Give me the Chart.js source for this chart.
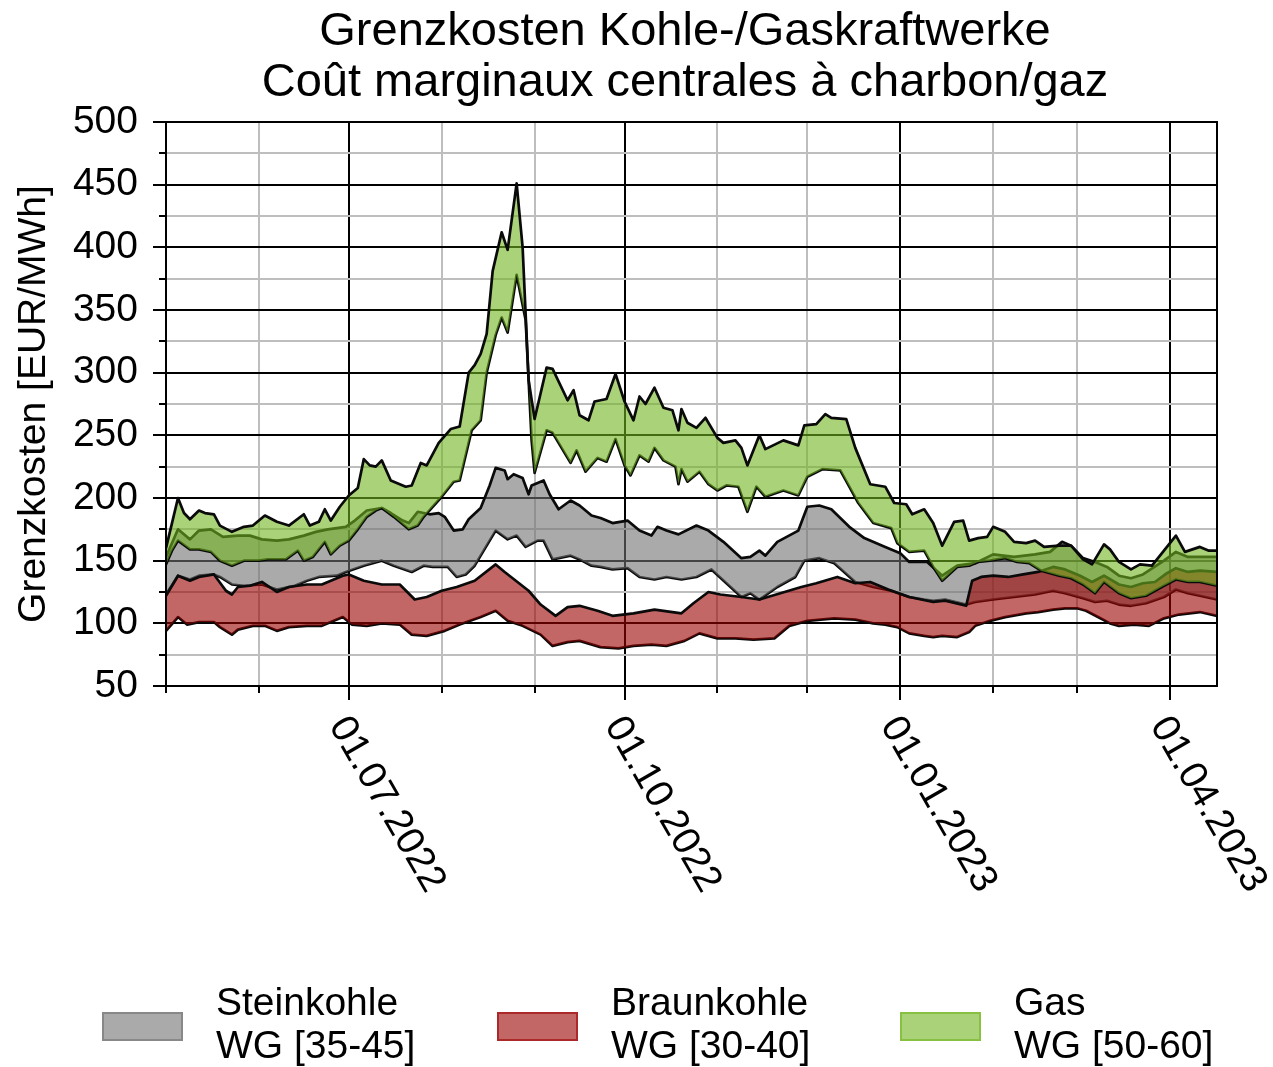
<!DOCTYPE html>
<html>
<head>
<meta charset="utf-8">
<script src="https://cdn.jsdelivr.net/npm/chart.js@4.4.1/dist/chart.umd.min.js"></script>
<style>
    html, body { margin: 0; padding: 0; background: #fff; }
    canvas { display: block; }
</style>
</head>
<body>
<canvas id="graph" width="1273" height="1067"></canvas>
<script>
const titleLines = ['Grenzkosten Kohle-/Gaskraftwerke', 'Coût marginaux centrales à charbon/gaz']
const yTitle = 'Grenzkosten [EUR/MWh]'

// x = days since 01.05.2022
const startDate = Date.UTC(2022, 4, 1)
const xMaxDay = 350.7
const monthTicks = ['2022-05-01', '2022-06-01', '2022-07-01', '2022-08-01', '2022-09-01', '2022-10-01',
    '2022-11-01', '2022-12-01', '2023-01-01', '2023-02-01', '2023-03-01', '2023-04-01']
const labelledTicks = ['2022-07-01', '2022-10-01', '2023-01-01', '2023-04-01']

const legendNames = ['Steinkohle', 'Braunkohle', 'Gas']
const legendRanges = ['WG [35-45]', 'WG [30-40]', 'WG [50-60]']

// [day, EUR/MWh]
const gasHi = [[0,160],[2,180],[4,200],[6,188],[8,183],[11,190],[13,188],[16,187],[18,178],[22,173],[26,177],[29,178],
    [33,186],[37,181],[41,178],[46,187],[48,178],[51,181],[53,191],[55,182],[58,193],[61,202],[64,208],[66,231],[68,226],
    [70,225],[72,230],[75,214],[80,209],[82,210],[85,228],[87,226],[91,244],[95,255],[98,257],[101,300],[103,306],[105,315],
    [107,331],[109,381],[112,412],[114,398],[117,451],[119,400],[121,294],[123,263],[127,304],[129,303],[134,278],[136,286],
    [138,266],[141,262],[143,277],[147,279],[150,299],[153,277],[156,262],[158,281],[160,275],[163,288],[166,272],[169,270],
    [171,254],[172,271],[174,260],[177,256],[180,264],[184,248],[186,244],[190,246],[192,240],[194,226],[198,250],[200,239],
    [206,246],[211,242],[213,258],[217,259],[220,267],[222,264],[227,263],[230,240],[235,211],[240,209],[243,196],[247,195],
    [249,187],[253,191],[256,180],[259,162],[263,181],[266,182],[268,166],[271,168],[274,169],[276,177],[280,173],[283,165],
    [287,164],[290,166],[293,161],[298,162],[302,162],[306,151],[309,147],[313,163],[315,159],[318,149],[322,143],[325,147],
    [329,146],[333,158],[337,170],[340,157],[345,161],[348,158],[350.7,158]]
const gasLo = [[0,147],[2,158],[4,166],[8,159],[11,159],[15,157],[18,150],[22,146],[26,150],[31,150],[34,151],[40,151],
    [44,158],[46,150],[49,153],[53,165],[55,155],[58,162],[61,166],[64,175],[67,185],[70,190],[72,192],[76,185],[81,175],
    [84,178],[86,185],[89,193],[92,201],[96,213],[98,214],[102,254],[105,262],[107,300],[110,330],[112,344],[114,332],
    [117,378],[120,342],[122,246],[123,220],[127,254],[129,252],[135,228],[137,238],[140,221],[144,232],[147,229],[150,247],
    [153,226],[155,218],[158,234],[161,229],[163,240],[166,230],[170,225],[171,211],[172,223],[174,213],[178,221],[181,211],
    [184,206],[187,210],[191,209],[194,189],[197,209],[200,201],[206,206],[211,202],[214,217],[219,223],[225,222],[228,209],
    [231,196],[236,180],[242,176],[244,164],[248,157],[253,158],[256,145],[259,134],[264,145],[268,146],[271,149],[275,150],
    [280,152],[284,149],[288,148],[292,142],[298,138],[302,136],[306,131],[310,124],[313,133],[318,124],[322,120],[327,122],
    [333,130],[337,135],[341,133],[345,133],[350.7,130]]
const steinHi = [[0,153],[4,175],[8,167],[11,174],[15,175],[19,169],[24,170],[28,170],[32,167],[37,166],[41,167],[46,170],
    [50,173],[54,175],[60,177],[63,182],[67,190],[72,192],[75,188],[79,182],[81,180],[84,189],[86,188],[88,187],[91,188],
    [93,185],[96,174],[99,175],[101,183],[105,192],[108,210],[110,224],[113,222],[114,215],[116,219],[119,216],[121,203],
    [122,210],[126,214],[128,203],[131,191],[135,198],[138,194],[142,186],[145,184],[149,180],[154,182],[158,174],[162,170],
    [164,177],[167,174],[171,171],[177,178],[181,174],[186,165],[192,152],[195,153],[198,158],[200,154],[204,165],[211,174],
    [214,193],[218,194],[222,191],[228,177],[233,168],[240,161],[245,156],[248,149],[254,149],[259,138],[264,146],[270,148],
    [276,155],[283,153],[290,155],[295,157],[299,165],[302,162],[306,152],[310,149],[314,145],[318,138],[322,136],[326,139],
    [333,150],[337,157],[341,153],[345,153],[350.7,153]]
const steinLo = [[0,123],[4,138],[8,135],[11,138],[16,139],[18,137],[22,131],[26,130],[32,131],[37,127],[43,130],[47,134],
    [51,137],[57,138],[60,141],[66,146],[72,150],[76,146],[82,141],[86,146],[89,145],[94,145],[97,137],[100,139],[103,146],
    [106,158],[110,174],[114,167],[117,170],[120,161],[124,166],[126,166],[129,151],[135,154],[138,151],[142,146],[145,145],
    [149,143],[154,144],[158,137],[163,135],[167,137],[172,135],[177,137],[182,143],[187,132],[192,121],[195,124],[198,119],
    [204,129],[210,137],[213,150],[218,152],[223,148],[230,133],[236,129],[242,126],[248,121],[253,119],[256,118],[260,119],
    [267,115],[270,117],[276,119],[283,121],[290,123],[296,126],[300,124],[306,120],[310,117],[314,118],[318,115],[322,114],
    [327,116],[333,121],[337,127],[341,124],[345,122],[350.7,119]]
const braunHi = [[0,122],[4,138],[8,134],[11,137],[16,139],[20,126],[22,123],[24,129],[28,130],[32,133],[37,125],[41,129],
    [47,131],[52,131],[59,138],[61,139],[66,134],[72,131],[78,131],[83,119],[87,121],[92,126],[97,129],[103,134],[110,147],
    [113,141],[121,126],[125,115],[130,106],[134,113],[138,114],[144,110],[149,106],[156,108],[163,111],[172,108],[176,116],
    [181,125],[185,123],[192,121],[198,119],[205,124],[212,129],[217,132],[224,137],[230,132],[235,133],[241,127],[248,121],
    [256,117],[260,118],[267,114],[269,134],[272,137],[276,138],[281,137],[286,139],[291,141],[296,145],[300,143],[305,138],
    [309,133],[313,138],[318,131],[322,129],[326,132],[330,133],[334,140],[337,144],[341,141],[345,142],[350.7,141]]
const braunLo = [[0,94],[4,105],[7,99],[11,101],[16,101],[18,97],[22,91],[24,95],[29,98],[33,98],[37,94],[41,97],[47,98],
    [52,98],[59,105],[62,99],[67,98],[72,100],[78,99],[82,91],[87,90],[93,94],[98,99],[105,105],[110,110],[114,102],[119,98],
    [125,91],[129,82],[134,85],[138,86],[145,81],[151,80],[156,82],[162,83],[167,82],[173,86],[178,92],[184,88],[190,88],
    [196,87],[203,88],[208,98],[214,102],[223,104],[230,103],[236,100],[240,99],[244,97],[248,92],[253,90],[256,89],[259,90],
    [264,89],[268,93],[270,98],[275,102],[280,105],[287,108],[291,109],[296,111],[300,112],[304,112],[307,110],[311,105],
    [315,100],[318,98],[323,99],[328,98],[333,104],[338,107],[345,109],[350.7,106]]

const black = 'rgb(0, 0, 0)'
const lineBlack = 'rgb(10, 10, 10)'
const gridGrey = 'rgb(190, 190, 190)'
const gasFill = 'rgba(113, 180, 30, 0.6)'
const braunFill = 'rgba(155, 0, 0, 0.6)'
const steinFill = 'rgba(113, 113, 113, 0.6)'
const fontFamily = '"Liberation Sans", Arial, Helvetica, sans-serif'

const dayOf = s => (Date.parse(s) - startDate) / 86400000
const toPoints = arr => arr.map(p => ({x: p[0], y: p[1]}))
const quarterDays = labelledTicks.map(dayOf)
function fmtDay(d) {
    const dt = new Date(startDate + d * 86400000)
    const pad = n => String(n).padStart(2, '0')
    return pad(dt.getUTCDate()) + '.' + pad(dt.getUTCMonth() + 1) + '.' + dt.getUTCFullYear()
}

function band(label, upper, lower, fillColor) {
    //upper line fills down to the lower line
    return [
        {label: label, data: toPoints(upper), fill: '+1', backgroundColor: fillColor,
            borderColor: lineBlack, borderWidth: 2.7, pointRadius: 0, tension: 0, borderJoinStyle: 'round'},
        {label: label, data: toPoints(lower), fill: false,
            borderColor: lineBlack, borderWidth: 2.7, pointRadius: 0, tension: 0, borderJoinStyle: 'round'}
    ]
}

const decor = {
    id: 'decor',
    afterDatasetsDraw(chart) {
        const ctx = chart.ctx
        const area = chart.chartArea
        const xs = chart.scales.x
        const ys = chart.scales.y
        ctx.save()
        ctx.strokeStyle = black
        ctx.lineWidth = 2
        //tick marks
        ctx.beginPath()
        for (let v = 50; v <= 500; v += 25) {
            const py = Math.round(ys.getPixelForValue(v))
            const len = v % 50 === 0 ? 13 : 7
            ctx.moveTo(area.left - len, py)
            ctx.lineTo(area.left, py)
        }
        for (const s of monthTicks) {
            const px = Math.round(xs.getPixelForValue(dayOf(s)))
            const len = labelledTicks.includes(s) ? 14 : 7
            ctx.moveTo(px, area.bottom)
            ctx.lineTo(px, area.bottom + len)
        }
        ctx.stroke()
        ctx.strokeRect(area.left, area.top, area.right - area.left, area.bottom - area.top)
        ctx.restore()
    },
    afterDraw(chart) {
        const ctx = chart.ctx
        const area = chart.chartArea
        const xs = chart.scales.x
        ctx.save()
        ctx.fillStyle = black
        //title
        ctx.font = '47px ' + fontFamily
        ctx.textAlign = 'center'
        ctx.textBaseline = 'alphabetic'
        ctx.fillText(titleLines[0], 685, 45)
        ctx.fillText(titleLines[1], 685, 96)
        //rotated date labels
        ctx.font = '39px ' + fontFamily
        ctx.textAlign = 'left'
        ctx.textBaseline = 'middle'
        for (const s of labelledTicks) {
            const px = xs.getPixelForValue(dayOf(s))
            ctx.save()
            ctx.translate(px - 11, area.bottom + 34)
            ctx.rotate(60 * Math.PI / 180)
            ctx.fillText(fmtDay(dayOf(s)), 0, 0)
            ctx.restore()
        }
        //legend
        const swatchX = [102, 497, 900]
        const fills = [steinFill, braunFill, gasFill]
        ctx.textBaseline = 'alphabetic'
        for (let i = 0; i < legendNames.length; i++) {
            ctx.fillStyle = 'white'
            ctx.fillRect(swatchX[i], 1012, 81, 29)
            ctx.fillStyle = fills[i]
            ctx.fillRect(swatchX[i], 1012, 81, 29)
            ctx.strokeStyle = fills[i]
            ctx.lineWidth = 2
            ctx.strokeRect(swatchX[i] + 1, 1013, 79, 27)
            ctx.fillStyle = black
            ctx.fillText(legendNames[i], swatchX[i] + 114, 1015)
            ctx.fillText(legendRanges[i], swatchX[i] + 114, 1058)
        }
        ctx.restore()
    }
}

const myChart = new Chart(document.getElementById('graph'), {
    type: 'line',
    data: {
        datasets: [
            ...band('Gas', gasHi, gasLo, gasFill),
            ...band('Braunkohle', braunHi, braunLo, braunFill),
            ...band('Steinkohle', steinHi, steinLo, steinFill)
        ]
    },
    options: {
        responsive: false,
        animation: false,
        layout: {padding: {top: 122, right: 56, bottom: 0, left: 0}},
        plugins: {
            legend: {display: false},
            title: {display: false},
            tooltip: {enabled: false}
        },
        scales: {
            x: {
                type: 'linear',
                min: 0,
                max: xMaxDay,
                afterBuildTicks: scale => { scale.ticks = monthTicks.map(s => ({value: dayOf(s)})) },
                afterFit: scale => { scale.height = 381 },
                ticks: {display: false},
                grid: {
                    drawTicks: false,
                    lineWidth: 2,
                    color: c => quarterDays.includes(c.tick.value) ? black : gridGrey
                },
                border: {color: black, width: 2}
            },
            y: {
                min: 50,
                max: 500,
                afterFit: scale => { scale.width = 166 },
                ticks: {
                    stepSize: 25,
                    autoSkip: false,
                    padding: 28,
                    color: black,
                    font: {family: fontFamily, size: 39},
                    callback: v => v % 50 === 0 ? v : ''
                },
                grid: {
                    drawTicks: false,
                    lineWidth: 2,
                    color: c => c.tick.value % 50 === 0 ? black : gridGrey
                },
                border: {color: black, width: 2},
                title: {
                    display: true,
                    text: yTitle,
                    color: black,
                    font: {family: fontFamily, size: 39},
                    padding: {top: 11, bottom: 0}
                }
            }
        }
    },
    plugins: [decor]
})
</script>
</body>
</html>
